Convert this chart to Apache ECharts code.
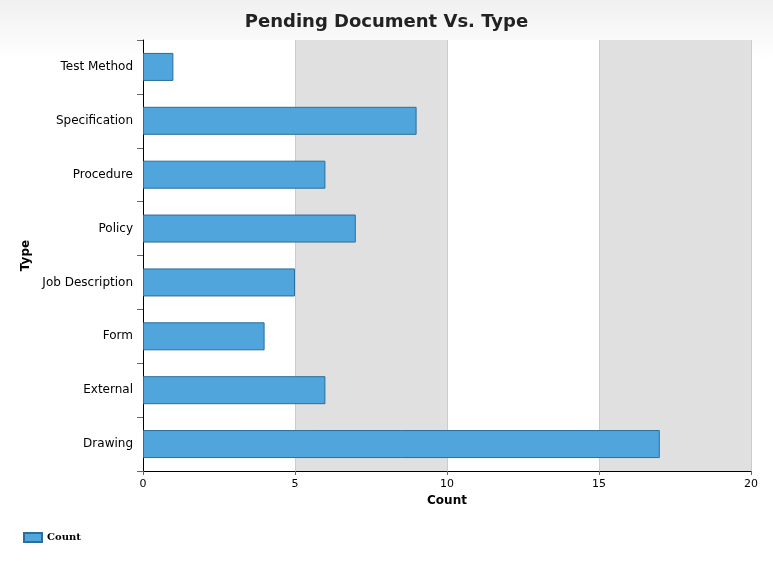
<!DOCTYPE html>
<html><head><meta charset="utf-8">
<script src="https://cdn.jsdelivr.net/npm/echarts@6/dist/echarts.min.js"></script>
<style>html,body{margin:0;padding:0;}#main{width:773px;height:561px;background:linear-gradient(#f0f0f0,#ffffff 60px);}</style>
</head><body><div id="main"></div>
<script>
var categories = ['Drawing', 'External', 'Form', 'Job Description', 'Policy', 'Procedure', 'Specification', 'Test Method'];
var counts = [17, 6, 4, 5, 7, 6, 9, 1];
var xTicks = [0, 5, 10, 15, 20];

var myChart = echarts.init(document.getElementById('main'));
var option = {
  textStyle: { fontFamily: 'DejaVu Sans' },
  title: {
    text: 'Pending Document Vs. Type', left: 'center', top: 8,
    textStyle: { fontSize: 18, fontWeight: 'bold', color: '#222', fontFamily: 'DejaVu Sans' }
  },
  legend: {
    left: 18, top: 527, itemWidth: 18, itemHeight: 9, icon: 'rect',
    textStyle: { fontFamily: 'DejaVu Serif', fontWeight: 'bold', fontSize: 10, color: '#000' },
    data: ['Count']
  },
  grid: { left: 143, right: 22, top: 40, bottom: 90 },
  xAxis: {
    type: 'value', min: xTicks[0], max: xTicks[xTicks.length - 1], interval: 5,
    name: 'Count', nameLocation: 'middle', nameGap: 22,
    nameTextStyle: { fontWeight: 'bold', fontSize: 12, color: '#000' },
    axisLine: { show: true, lineStyle: { color: '#000' } },
    axisTick: { show: true, length: 4, lineStyle: { color: '#666' } },
    axisLabel: { color: '#000', fontSize: 11 },
    splitLine: { show: true, lineStyle: { color: '#ccc' } },
    splitArea: { show: true, areaStyle: { color: ['rgba(255,255,255,1)', '#e0e0e0'] } }
  },
  yAxis: {
    type: 'category', data: categories,
    name: 'Type', nameLocation: 'middle', nameGap: 105, nameRotate: 90,
    nameTextStyle: { fontWeight: 'bold', fontSize: 12, color: '#000' },
    axisLine: { lineStyle: { color: '#000' } },
    axisTick: { show: true, length: 6, lineStyle: { color: '#666' } },
    axisLabel: { color: '#000', fontSize: 12, margin: 10 }
  },
  series: [{
    name: 'Count', type: 'bar', data: counts, barWidth: '52%',
    itemStyle: { color: '#4fa5dc', borderColor: '#2b6e99', borderWidth: 1 }
  }]
};
myChart.setOption(option);
</script></body></html>
